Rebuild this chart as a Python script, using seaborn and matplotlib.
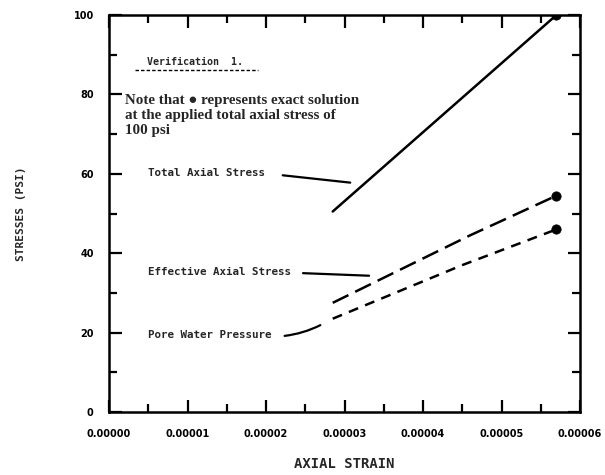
import matplotlib
matplotlib.use("Agg")
import matplotlib.pyplot as plt
import seaborn as sns
import pandas as pd
import numpy as np

# ---- data ----
strain_total = [2.85e-5, 5.70e-5]
stress_total = [50.5, 100.0]
strain_eff = [2.85e-5, 4.60e-5, 5.70e-5]
stress_eff = [27.5, 44.5, 54.5]
strain_pore = [2.85e-5, 4.50e-5, 5.70e-5]
stress_pore = [23.5, 37.0, 46.0]
exact_strain = [5.70e-5, 5.70e-5, 5.70e-5]
exact_stress = [100.0, 54.5, 46.0]
xticks = [0.0, 1e-5, 2e-5, 3e-5, 4e-5, 5e-5, 6e-5]
xticklabels = ["0.00000", "0.00001", "0.00002", "0.00003", "0.00004", "0.00005", "0.00006"]
yticks = [0, 20, 40, 60, 80, 100]

df = pd.concat([
    pd.DataFrame({"strain": strain_total, "stress": stress_total, "series": "Total Axial Stress"}),
    pd.DataFrame({"strain": strain_eff, "stress": stress_eff, "series": "Effective Axial Stress"}),
    pd.DataFrame({"strain": strain_pore, "stress": stress_pore, "series": "Pore Water Pressure"}),
])
exact = pd.DataFrame({"strain": exact_strain, "stress": exact_stress})

sns.set_theme(style="ticks")
plt.rcParams["font.family"] = ["DejaVu Sans"]

fig = plt.figure(figsize=(6.05, 4.75), dpi=100)
ax = fig.add_axes([109/605, 1-412/475, 471/605, 397/475])

dashes = {"Total Axial Stress": "", "Effective Axial Stress": (7, 3),
          "Pore Water Pressure": (4, 3)}
sns.lineplot(data=df, x="strain", y="stress", hue="series", style="series",
             palette=["black"]*3, dashes=dashes, linewidth=1.8, legend=False,
             sort=True, estimator=None, ax=ax)
sns.scatterplot(data=exact, x="strain", y="stress", color="black", s=45,
                edgecolor="black", zorder=5, legend=False, ax=ax)

ax.set_xlim(0, 6e-5)
ax.set_ylim(0, 100)
ax.set_xticks(xticks)
ax.set_xticklabels(xticklabels)
ax.set_yticks(yticks)
ax.set_xticks(np.arange(0.5e-5, 6e-5, 1e-5), minor=True)
ax.set_yticks(np.arange(10, 100, 20), minor=True)
ax.tick_params(which="both", direction="in", top=True, right=True, width=1.6, colors="black")
ax.tick_params(which="major", length=9, labelsize=7, pad=12)
ax.tick_params(axis="y", which="major", pad=11)
ax.tick_params(which="minor", length=6)
for lab in ax.get_xticklabels() + ax.get_yticklabels():
    lab.set_fontweight("bold")
for sp in ax.spines.values():
    sp.set_linewidth(1.8)
    sp.set_color("black")

ax.set_xlabel("AXIAL STRAIN", fontsize=10, fontweight="bold", family="DejaVu Sans Mono", labelpad=13)
ax.set_ylabel("STRESSES (PSI)", fontsize=8, fontweight="bold", family="DejaVu Sans Mono", labelpad=34)

mono = dict(family="DejaVu Sans Mono", fontweight="bold", fontsize=7.8, transform=ax.transAxes,
            va="center", ha="left")
ax.text(0.081, 0.882, "Verification  1.", **dict(mono, fontsize=7.2))
ax.plot([0.055, 0.316], [0.862, 0.862], transform=ax.transAxes, color="black",
        linewidth=1.0, linestyle=(0, (2.5, 1.5)))
ax.text(0.034, 0.748, "Note that \u25cf represents exact solution\nat the applied total axial stress of\n100 psi",
        family="Liberation Serif", fontweight="bold", fontsize=10.8, transform=ax.transAxes,
        va="center", ha="left", linespacing=1.2)

ax.text(0.083, 0.602, "Total Axial Stress", **mono)
ax.text(0.083, 0.353, "Effective Axial Stress", **mono)
ax.text(0.083, 0.194, "Pore Water Pressure", **mono)

ax.annotate("", xy=(0.518, 0.577), xytext=(0.363, 0.597), xycoords="axes fraction",
            arrowprops=dict(arrowstyle="-", color="black", lw=1.6))
ax.annotate("", xy=(0.558, 0.343), xytext=(0.406, 0.350), xycoords="axes fraction",
            arrowprops=dict(arrowstyle="-", color="black", lw=1.6))
ax.annotate("", xy=(0.454, 0.222), xytext=(0.367, 0.191), xycoords="axes fraction",
            arrowprops=dict(arrowstyle="-", color="black", lw=1.6,
                            connectionstyle="arc3,rad=0.1"))

fig.savefig("out.png", dpi=100, facecolor="white")
